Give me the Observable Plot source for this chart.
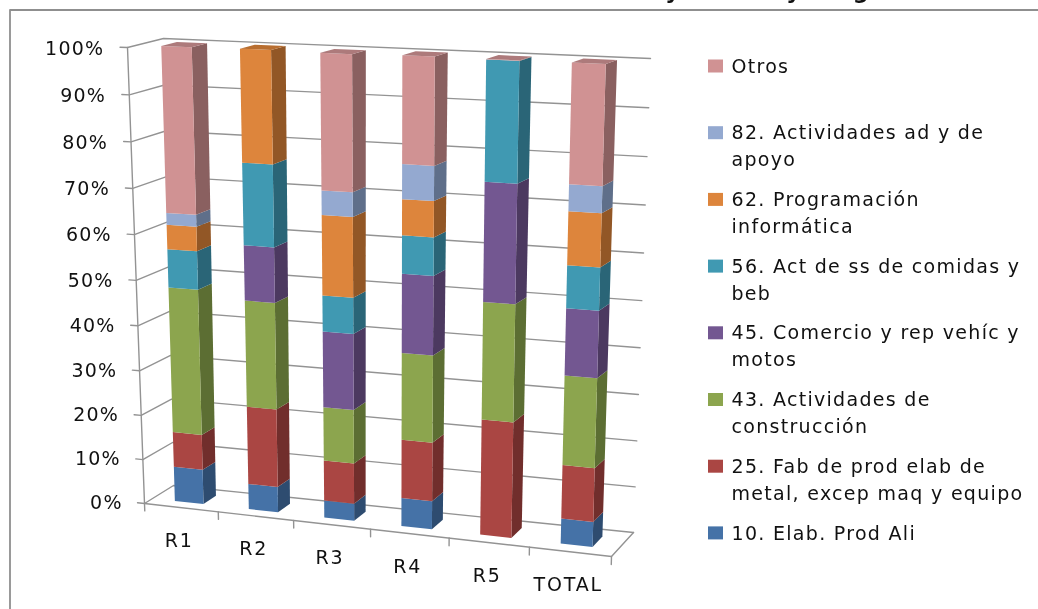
<!DOCTYPE html>
<html>
<head>
<meta charset="utf-8">
<style>html,body{margin:0;padding:0;background:#fff;overflow:hidden} svg{display:block;filter:blur(0.35px)}</style>
<script src="https://cdn.jsdelivr.net/npm/d3@7"></script>
<script src="https://cdn.jsdelivr.net/npm/@observablehq/plot@0.6"></script>
</head>
<body>
<div id="chart"></div>
<script>
const categories = ["R1","R2","R3","R4","R5","TOTAL"];
const yTicks = [0,10,20,30,40,50,60,70,80,90,100];
const seriesNames = ["10. Elab. Prod Ali","25. Fab de prod elab de\nmetal, excep maq y equipo","43. Actividades de\nconstrucción","45. Comercio y rep vehíc y\nmotos","56. Act de ss de comidas y\nbeb","62. Programación\ninformática","82. Actividades ad y de\napoyo","Otros"];
const s10   = [7.8, 5.7, 3.8, 6.2, 0, 5.4];
const s25   = [7.9, 17.3, 8.9, 12.8, 25, 11.5];
const s43   = [32.3, 23.4, 11.8, 18.8, 25, 19.0];
const s45   = [0, 12.0, 16.5, 16.9, 25, 14.1];
const s56   = [8.4, 17.7, 7.8, 8.1, 24.9, 8.9];
const s62   = [5.3, 24.0, 17.2, 7.6, 0, 11.1];
const s82   = [2.6, 0, 5.2, 7.3, 0, 5.5];
const otros = [35.7, 0, 28.7, 22.4, 0.1, 24.5];
const seriesValues = [s10,s25,s43,s45,s56,s62,s82,otros];
const frontColors = ["#4572A7","#AA4643","#8CA54E","#735791","#4099B2","#DD853C","#94A9D0","#D09293"];
const sideColors  = ["#2E4C70","#712E2C","#5C6E33","#4C3960","#2A6577","#925726","#5F6F8A","#8A6060"];
const capColors   = ["#3A6090","#8E3A38","#748A40","#604978","#357F94","#B86E30","#7B8DAE","#AD7A7B"];

// Oblique view of the unit box: u along categories, v up the value axis, d into the depth
const warp = (t, r) => t / (t + r * (1 - t));
const corners = {
  fb: [[144,503],[611,556]], bb: [[173,485],[633,532]],
  ft: [[127,47],[625,67]],  bt: [[163,38],[650,58]]
};
const mix = (a,b,t) => a + (b-a)*t;
const mixP = (p,q,t) => [mix(p[0],q[0],t), mix(p[1],q[1],t)];
function view(u,v,d){
  const U = warp(u,1.066), V = warp(v,1.044);
  const bottom = mixP(mixP(corners.fb[0],corners.fb[1],U), mixP(corners.bb[0],corners.bb[1],U), d);
  const top    = mixP(mixP(corners.ft[0],corners.ft[1],U), mixP(corners.bt[0],corners.bt[1],U), d);
  return mixP(bottom, top, V);
}

const polys = [];
let pid = 0;
const addPoly = (pts, color) => { pid++; pts.forEach(p => polys.push({id:pid, x:p[0], y:p[1], color})); };
const halfWidth = 0.0325, d1 = 0.28, d2 = 0.72;
categories.forEach((c,i) => {
  const uc = (i+0.5)/categories.length, u1 = uc-halfWidth, u2 = uc+halfWidth;
  let cum = 0, lastIdx = 0;
  seriesValues.forEach((vals,s) => {
    const v0 = cum/100, v1 = (cum+vals[i])/100;
    cum += vals[i];
    if (vals[i] === 0) return;
    lastIdx = s;
    addPoly([view(u2,v0,d1),view(u2,v1,d1),view(u2,v1,d2),view(u2,v0,d2)], sideColors[s]);
    addPoly([view(u1,v0,d1),view(u2,v0,d1),view(u2,v1,d1),view(u1,v1,d1)], frontColors[s]);
  });
  const vt = cum/100;
  addPoly([view(u1,vt,d1),view(u2,vt,d1),view(u2,vt,d2),view(u1,vt,d2)], capColors[lastIdx]);
});

const grid = [];
let gid = 0;
const addLine = (pts) => { gid++; pts.forEach(p => grid.push({id:gid, x:p[0], y:p[1]})); };
yTicks.forEach(t => {
  const v = t/100;
  addLine([view(-0.016,v,0),view(0,v,0),view(0,v,1),view(1,v,1)]);
});
addLine([view(0,0,0),view(0,1,0)]);
addLine([view(0,0,0),view(1,0,0),view(1,0,1)]);
d3.range(categories.length+1).forEach(k => addLine([view(k/categories.length,0,0),view(k/categories.length,-0.017,0)]));

const yLabels = yTicks.map(t => { const p = view(-0.05,t/100,0); return {x:p[0], y:p[1], text:t+"%"}; });
const xLabels = categories.map((c,i) => { const p = view((i+0.5)/categories.length,0,0); return {x:p[0]-2, y:p[1], text:c}; });

const legendOrder = d3.range(seriesNames.length).reverse();
const legendRows = legendOrder.map((s,i) => ({name:seriesNames[s], color:frontColors[s], row:66+66.7*i}));
const titleBits = [{x:672,t:"y"},{x:793,t:"y"},{x:860,t:"g"}];
const FONT = "DejaVu Sans, sans-serif";

const plot = Plot.plot({
  width:1038, height:609, margin:0,
  x:{domain:[0,1038],range:[0,1038],axis:null},
  y:{domain:[0,609],range:[0,609],axis:null},
  color:{type:"identity"},
  marks:[
    Plot.line([[1038,9.5],[9.5,9.5],[9.5,609]],{x:d=>d[0],y:d=>d[1],stroke:"#8f8f8f",strokeWidth:1.8}),
    Plot.text(titleBits,{x:"x",y:()=>-9,text:"t",fontSize:22,fontWeight:"bold",fontFamily:FONT,fill:"#111"}),
    Plot.line(grid,{x:"x",y:"y",z:"id",stroke:"#939393",strokeWidth:1.4}),
    Plot.line(polys,{x:"x",y:"y",z:"id",fill:"color",stroke:null}),
    Plot.text(yLabels,{x:"x",y:"y",text:"text",textAnchor:"end",dy:2,fontSize:19,fontFamily:FONT,fill:"#111"}),
    Plot.text(xLabels,{x:"x",y:"y",text:"text",dy:33,fontSize:19,fontFamily:FONT,fill:"#111"}),
    Plot.rect(legendRows,{x1:()=>708,x2:()=>723,y1:d=>d.row-6.5,y2:d=>d.row+6.5,fill:"color"}),
    Plot.text(legendRows,{x:()=>731,y:"row",text:"name",textAnchor:"start",lineAnchor:"top",dy:-13,lineHeight:1.42,fontSize:19,fontFamily:FONT,fill:"#111"})
  ]
});
const textGroups = plot.querySelectorAll('g[aria-label="text"]');
const spacings = ["0px","1.2px","1.8px","1.3px"];
textGroups.forEach((g,i) => { g.style.letterSpacing = spacings[i]; });
document.getElementById("chart").appendChild(plot);
</script>
</body>
</html>
